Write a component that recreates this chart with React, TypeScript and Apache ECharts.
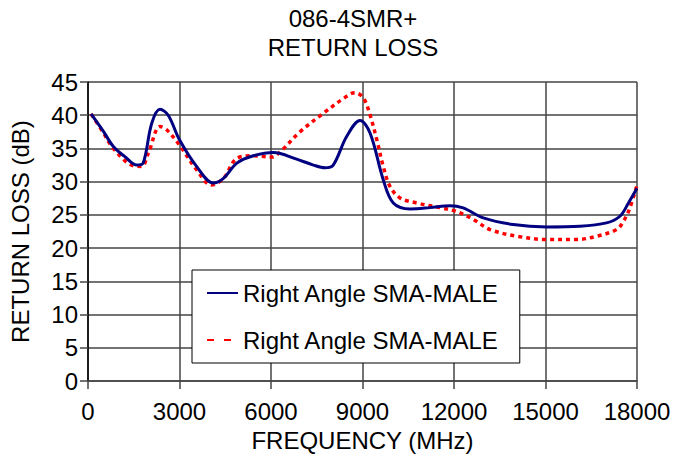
import React, { useEffect, useRef } from "react";
import * as echarts from "echarts";

const titleLines = ["086-4SMR+", "RETURN LOSS"];
const xAxisTitle = "FREQUENCY (MHz)";
const yAxisTitle = "RETURN LOSS (dB)";
const seriesNames = ["Right Angle SMA-MALE", "Right Angle SMA-MALE "];

const blueFreq = [100, 500, 830, 1200, 1600, 1810, 2090, 2360, 2630, 3000, 3560, 4110, 4440, 4880, 5420, 6075, 6840, 7390, 7770, 8040, 8480, 8920, 9250, 9680, 10010, 10560, 11210, 11870, 12300, 12960, 13940, 15040, 16130, 17000, 17440, 17720, 18000];
const blueDb = [40.2, 37.6, 35.3, 33.8, 32.5, 32.8, 38.8, 40.9, 40.0, 36.3, 32.3, 29.8, 30.5, 32.8, 33.9, 34.4, 33.4, 32.5, 32.1, 32.5, 36.8, 39.2, 37.3, 30.3, 26.8, 25.9, 26.1, 26.4, 26.05, 24.55, 23.55, 23.2, 23.3, 23.8, 24.8, 26.8, 29.0];

const redFreq = [100, 500, 830, 1490, 1760, 1980, 2360, 2580, 3000, 3560, 4050, 4440, 4880, 5420, 6020, 6300, 6950, 7720, 8370, 8750, 9030, 9250, 9470, 9680, 9900, 10230, 10780, 11540, 12090, 12640, 13180, 14060, 15040, 16020, 16680, 17330, 17550, 17770, 18000];
const redDb = [40.2, 37.4, 35.0, 32.4, 32.3, 34.3, 38.3, 37.8, 35.5, 31.8, 29.5, 30.5, 33.5, 33.9, 33.7, 34.5, 37.5, 40.3, 42.5, 43.4, 42.6, 40.0, 36.3, 32.3, 29.3, 27.55, 26.8, 26.1, 25.5, 24.3, 22.8, 21.8, 21.3, 21.3, 21.8, 22.8, 24.0, 26.1, 29.5];

const FONT = "Arial, 'Liberation Sans', sans-serif";
const GRID_COLOR = "#454545";

export default function App() {
  const ref = useRef<HTMLDivElement>(null);
  useEffect(() => {
    if (!ref.current) return;
    const chart = echarts.init(ref.current, undefined, { renderer: "svg" });
    const pair = (xs: number[], ys: number[]) => xs.map((x, i) => [x, ys[i]]);
    chart.setOption({
      animation: false,
      backgroundColor: "#ffffff",
      textStyle: { fontFamily: FONT },
      graphic: titleLines.map((t, i) => ({
        type: "text",
        x: 353,
        y: 18 + i * 29,
        style: {
          text: t,
          font: `24px ${FONT}`,
          fill: "#000",
          textAlign: "center",
          textVerticalAlign: "middle",
        },
      })),
      grid: { left: 88, top: 82, width: 549, height: 300, containLabel: false },
      legend: {
        orient: "vertical",
        left: 192,
        top: 270,
        padding: [11, 14, 11, 14],
        itemGap: 23,
        itemWidth: 31,
        itemHeight: 24,
        backgroundColor: "#ffffff",
        borderColor: "#000",
        borderWidth: 1,
        itemStyle: { opacity: 0 },
        textStyle: { fontSize: 24, color: "#000", fontFamily: FONT },
        data: [
          { name: seriesNames[0] },
          { name: seriesNames[1], lineStyle: { type: [7, 10], dashOffset: 0 } },
        ],
      },
      xAxis: {
        type: "value",
        min: 0,
        max: 18000,
        interval: 3000,
        name: xAxisTitle,
        nameLocation: "middle",
        nameGap: 46,
        nameTextStyle: { fontSize: 24, color: "#000", fontFamily: FONT },
        axisLine: { lineStyle: { color: GRID_COLOR, width: 1.5 } },
        axisTick: { show: true, length: 8, lineStyle: { color: GRID_COLOR, width: 1.5 } },
        axisLabel: {
          fontSize: 24,
          color: "#000",
          margin: 18,
          fontFamily: FONT,
          formatter: (v: number) => String(v),
        },
        splitLine: { show: true, lineStyle: { color: GRID_COLOR, width: 1.5 } },
      },
      yAxis: {
        type: "value",
        min: 0,
        max: 45,
        interval: 5,
        name: yAxisTitle,
        nameLocation: "middle",
        nameRotate: 90,
        nameGap: 56,
        nameTextStyle: { fontSize: 24, color: "#000", fontFamily: FONT },
        axisLine: { show: true, lineStyle: { color: "#000", width: 1.5 } },
        axisTick: { show: true, length: 8, lineStyle: { color: GRID_COLOR, width: 1.5 } },
        axisLabel: { fontSize: 24, color: "#000", margin: 10, fontFamily: FONT },
        splitLine: { show: true, lineStyle: { color: GRID_COLOR, width: 1.5 } },
      },
      series: [
        {
          name: seriesNames[0],
          type: "line",
          data: pair(blueFreq, blueDb),
          smooth: 0.35,
          showSymbol: false,
          symbol: "none",
          lineStyle: { color: "#000080", width: 3 },
          itemStyle: { color: "#000080" },
          z: 3,
        },
        {
          name: seriesNames[1],
          type: "line",
          data: pair(redFreq, redDb),
          smooth: 0.35,
          showSymbol: false,
          symbol: "none",
          lineStyle: { color: "#ff0000", width: 3.5, type: [4, 4] },
          itemStyle: { color: "#ff0000" },
          z: 2,
        },
      ],
    });
    return () => chart.dispose();
  }, []);
  return (
    <div
      ref={ref}
      style={{ position: "fixed", left: 0, top: 0, width: 686, height: 457 }}
    />
  );
}
